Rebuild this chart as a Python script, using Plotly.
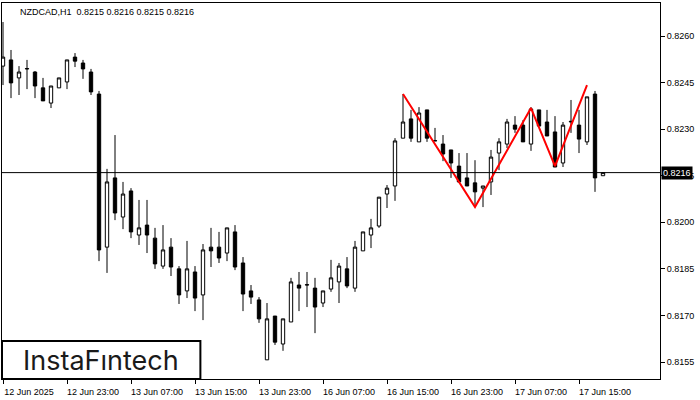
import plotly.graph_objects as go

symbol_title = "NZDCAD,H1  0.8215 0.8216 0.8215 0.8216"
bar_index = list(range(76))

opens = [0.82503, 0.82523, 0.82465, 0.82494, 0.82484, 0.82433, 0.82384, 0.82433, 0.82452, 0.82532,
         0.82513, 0.82484, 0.82413, 0.81920, 0.82143, 0.82017, 0.82101, 0.81959, 0.81991, 0.81949,
         0.81859, 0.81920, 0.81850, 0.81779, 0.81840, 0.81766, 0.81920, 0.81920, 0.81901, 0.81969,
         0.81869, 0.81779, 0.81750, 0.81557, 0.81698, 0.81608, 0.81679, 0.81798, 0.81798, 0.81788,
         0.81740, 0.81785, 0.81808, 0.81850, 0.81788, 0.81908, 0.81959, 0.81988, 0.82091, 0.82117,
         0.82271, 0.82333, 0.82259, 0.82362, 0.82262, 0.82252, 0.82233, 0.82181, 0.82143, 0.82127,
         0.82110, 0.82130, 0.82223, 0.82252, 0.82313, 0.82313, 0.82252, 0.82362, 0.82323, 0.82291,
         0.82191, 0.82323, 0.82313, 0.82259, 0.82413, 0.82150]
highs = [0.82645, 0.82555, 0.82503, 0.82523, 0.82487, 0.82465, 0.82439, 0.82465, 0.82523, 0.82545,
         0.82523, 0.82494, 0.82423, 0.82172, 0.82281, 0.82130, 0.82110, 0.82072, 0.82072, 0.81982,
         0.81991, 0.81949, 0.81859, 0.81940, 0.81859, 0.81930, 0.81982, 0.81969, 0.81982, 0.81991,
         0.81888, 0.81798, 0.81759, 0.81740, 0.81698, 0.81689, 0.81821, 0.81840, 0.81840, 0.81821,
         0.81779, 0.81879, 0.81869, 0.81888, 0.81940, 0.81969, 0.82011, 0.82081, 0.82120, 0.82271,
         0.82413, 0.82362, 0.82371, 0.82362, 0.82304, 0.82281, 0.82233, 0.82223, 0.82223, 0.82200,
         0.82117, 0.82233, 0.82271, 0.82333, 0.82342, 0.82329, 0.82371, 0.82362, 0.82362, 0.82342,
         0.82323, 0.82394, 0.82362, 0.82404, 0.82423, 0.82160]
lows = [0.82442, 0.82400, 0.82410, 0.82429, 0.82400, 0.82391, 0.82368, 0.82433, 0.82429, 0.82500,
        0.82462, 0.82410, 0.81875, 0.81837, 0.82007, 0.81978, 0.81949, 0.81927, 0.81901, 0.81850,
        0.81850, 0.81827, 0.81737, 0.81756, 0.81714, 0.81685, 0.81856, 0.81869, 0.81875, 0.81846,
        0.81714, 0.81737, 0.81676, 0.81557, 0.81605, 0.81586, 0.81679, 0.81714, 0.81727, 0.81643,
        0.81727, 0.81776, 0.81740, 0.81788, 0.81776, 0.81908, 0.81917, 0.81982, 0.82046, 0.82069,
        0.82271, 0.82259, 0.82259, 0.82259, 0.82262, 0.82197, 0.82143, 0.82127, 0.82117, 0.82049,
        0.82049, 0.82088, 0.82168, 0.82239, 0.82288, 0.82259, 0.82230, 0.82310, 0.82278, 0.82178,
        0.82178, 0.82288, 0.82223, 0.82249, 0.82098, 0.82150]
closes = [0.82532, 0.82449, 0.82484, 0.82495, 0.82439, 0.82391, 0.82439, 0.82465, 0.82523, 0.82519,
          0.82494, 0.82420, 0.81911, 0.82130, 0.82030, 0.82091, 0.81969, 0.81982, 0.81959, 0.81866,
          0.81911, 0.81856, 0.81766, 0.81850, 0.81756, 0.81911, 0.81908, 0.81885, 0.81982, 0.81856,
          0.81769, 0.81759, 0.81689, 0.81689, 0.81614, 0.81689, 0.81808, 0.81788, 0.81799, 0.81727,
          0.81779, 0.81821, 0.81859, 0.81795, 0.81920, 0.81969, 0.81982, 0.82081, 0.82110, 0.82262,
          0.82323, 0.82271, 0.82352, 0.82271, 0.82263, 0.82220, 0.82191, 0.82130, 0.82117, 0.82098,
          0.82117, 0.82210, 0.82259, 0.82323, 0.82300, 0.82259, 0.82365, 0.82310, 0.82278, 0.82178,
          0.82313, 0.82325, 0.82268, 0.82404, 0.82143, 0.82160]

pattern_bars = [50, 59, 66, 69, 73]
pattern_prices = [0.82413, 0.82049, 0.82368, 0.82181, 0.82442]

current_price = 0.8216
y_ticks = [0.8155, 0.8170, 0.8185, 0.8200, 0.8215, 0.8230, 0.8245, 0.8260]
y_tick_text = ["0.8155", "0.8170", "0.8185", "0.8200", "0.8215", "0.8230", "0.8245", "0.8260"]
x_tick_pos = [0, 8, 16, 24, 32, 40, 48, 56, 64, 72]
x_tick_text = ["12 Jun 2025", "12 Jun 23:00", "13 Jun 07:00", "13 Jun 15:00", "13 Jun 23:00",
               "16 Jun 07:00", "16 Jun 15:00", "16 Jun 23:00", "17 Jun 07:00", "17 Jun 15:00"]
logo_text = "InstaFıntech"

FONT = "Liberation Sans, Arial, sans-serif"

fig = go.Figure()
fig.add_trace(go.Candlestick(
    x=bar_index, open=opens, high=highs, low=lows, close=closes,
    increasing=dict(line=dict(color="black", width=1), fillcolor="white"),
    decreasing=dict(line=dict(color="black", width=1), fillcolor="black"),
    whiskerwidth=0, hoverinfo="skip", showlegend=False,
))
fig.add_trace(go.Scatter(
    x=pattern_bars, y=pattern_prices, mode="lines",
    line=dict(color="#ff0000", width=2), hoverinfo="skip", showlegend=False,
))
fig.add_hline(y=current_price, line=dict(color="black", width=1))

fig.add_annotation(
    xref="paper", yref="paper", x=0.024, y=0.995, xanchor="left", yanchor="top",
    text=symbol_title, showarrow=False, font=dict(family=FONT, size=9, color="#000000"),
)
fig.add_annotation(
    xref="paper", yref="y", x=1, y=current_price, xanchor="left", yanchor="middle",
    text=f"{current_price:.4f}", showarrow=False, xshift=1,
    bgcolor="black", font=dict(family=FONT, size=9, color="white"), borderpad=1,
)
fig.add_shape(type="rect", xref="paper", yref="paper", x0=0.0, x1=0.3015, y0=0.0, y1=0.101,
              line=dict(color="black", width=2), fillcolor="white", layer="above")
fig.add_annotation(
    xref="paper", yref="paper", x=0.1505, y=0.05, xanchor="center", yanchor="middle",
    text=logo_text, showarrow=False,
    font=dict(family="Inter, sans-serif", size=27, color="#1a1a1a"),
)

fig.update_layout(
    width=700, height=400,
    margin=dict(l=2, r=40, t=3, b=21),
    paper_bgcolor="white", plot_bgcolor="white",
    boxgap=0.4,
    showlegend=False,
    xaxis=dict(
        range=[-0.125, 82.125], rangeslider=dict(visible=False),
        tickmode="array", tickvals=x_tick_pos, ticktext=x_tick_text,
        ticks="outside", ticklen=4, tickcolor="black", showgrid=False, zeroline=False,
        showline=True, linecolor="black", linewidth=1, mirror=True,
        tickfont=dict(family=FONT, size=9, color="black"), ticklabelshift=26,
        ticklabelstandoff=0,
    ),
    yaxis=dict(
        side="right", range=[0.814953, 0.827063],
        tickmode="array", tickvals=y_ticks, ticktext=y_tick_text,
        ticks="outside", ticklen=4, tickcolor="black", showgrid=False, zeroline=False,
        showline=True, linecolor="black", linewidth=1, mirror=True,
        tickfont=dict(family=FONT, size=9, color="black"),
    ),
)

fig.write_html("out.html", config={"displayModeBar": False},
               post_script="document.body.style.margin='0';")
